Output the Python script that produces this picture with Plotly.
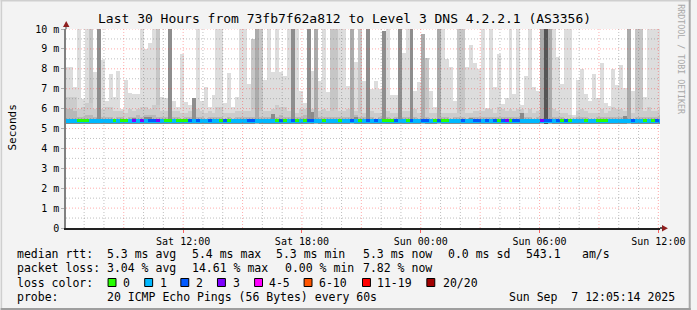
import plotly.graph_objects as go
import pandas as pd

# ---------------- data ----------------
# bar centre times (12 min buckets), k = -1 .. 149
times = pd.date_range("2025-09-06 06:08", periods=151, freq="12min")

# highest ping (ms) per bucket (values > 10 run off the chart)
light_top = [
    8.1, 8.1, 7.1, 12, 6.5, 12, 12, 7.85, 12, 8.45,
    6.4, 7.75, 6.6, 7.9, 6.0, 7.45, 6.8, 6.75, 6.75, 12,
    9.0, 9.3, 12, 12, 6.6, 6.55, 12, 6.4, 6.1, 8.75,
    6.35, 6.2, 6.55, 12, 6.4, 7.1, 6.1, 6.7, 12, 12,
    6.3, 7.8, 6.1, 6.6, 12, 12, 7.25, 9.5, 12, 12,
    7.45, 12, 7.85, 12, 7.85, 7.65, 12, 12, 12, 6.9,
    6.3, 12, 7.9, 12, 7.4, 12, 6.85, 12, 12, 12,
    12, 7.15, 12, 8.35, 12, 7.4, 12, 7.0, 7.4, 7.0,
    9.9, 12, 6.7, 6.7, 12, 8.8, 12, 12, 6.9, 7.35,
    9.75, 8.55, 6.9, 6.1, 12, 12, 8.5, 8.1, 6.4, 12,
    12, 8.1, 9.2, 8.3, 8.0, 12, 6.05, 12, 7.1, 8.75,
    6.25, 6.55, 12, 6.75, 12, 6.2, 7.65, 12, 7.1, 6.9,
    12, 12, 12, 12, 8.6, 7.25, 12, 12, 5.7, 7.45,
    8.0, 6.75, 6.4, 7.75, 6.55, 8.3, 6.3, 6.15, 8.0, 7.2,
    8.2, 7.05, 12, 6.9, 12, 12, 6.6, 12, 12, 12,
    12,
]

# shade of the tall smoke column: L light, M mid, A darker, D dark, X darkest
tall_shade = (
    "LLLLLLMLDL"
    "LLLLLLLLLL"
    "LLLMLLDLLL"
    "LLDLLLLLLL"
    "LLLLLLLMAM"
    "LLLLLLLDLL"
    "LDLALLLMML"
    "LLALMLDLLL"
    "DLLLDLLDLL"
    "AMLLALLLLM"
    "MLLLLLLLLL"
    "LLLLLLLLLL"
    "AXALLLLLLL"
    "LLLLLLLLLL"
    "LLALMMLLLL"
    "L"
)

# upper edge of the mid-grey smoke band (ms)
mid_low = [
    6.6, 6.6, 6.6, 6.0, 6.1, 6.3, 6.3, 6.0, 6.3, 6.0,
    6.1, 6.1, 5.9, 5.9, 5.9, 5.8, 6.0, 5.9, 6.0, 6.1,
    6.1, 6.0, 6.2, 6.2, 5.9, 5.9, 6.0, 5.9, 5.9, 5.8,
    5.8, 5.9, 6.0, 6.0, 5.9, 5.8, 5.9, 5.8, 6.1, 6.1,
    5.8, 5.8, 5.8, 5.9, 5.9, 5.9, 5.9, 6.0, 6.1, 5.9,
    5.9, 5.9, 6.0, 6.2, 6.1, 6.1, 5.9, 5.9, 5.8, 6.0,
    6.0, 6.1, 6.0, 5.9, 5.9, 6.0, 5.9, 5.9, 6.0, 5.9,
    5.9, 6.0, 5.9, 5.9, 5.8, 5.8, 5.8, 5.9, 5.8, 5.8,
    5.9, 5.9, 5.8, 5.8, 5.9, 5.9, 5.9, 5.9, 6.0, 5.8,
    5.8, 6.0, 5.8, 5.8, 5.7, 5.8, 5.8, 5.8, 5.8, 5.8,
    5.9, 5.8, 5.8, 5.9, 5.9, 5.9, 6.0, 6.0, 5.8, 6.1,
    6.0, 5.9, 6.0, 5.9, 6.0, 6.0, 5.8, 6.0, 5.8, 5.9,
    5.9, 5.9, 6.0, 6.0, 5.9, 5.8, 5.8, 5.7, 5.6, 5.9,
    6.0, 5.9, 5.8, 5.8, 5.8, 6.0, 5.8, 5.9, 6.1, 6.0,
    6.0, 5.9, 5.9, 5.8, 5.9, 6.0, 5.9, 6.1, 5.9, 5.9,
    6.1,
]

# upper edge of the dark smoke band (ms)
dark_low = [
    6.0, 6.0, 5.9, 5.6, 5.6, 5.7, 5.7, 5.6, 5.7, 5.6,
    5.6, 5.6, 5.5, 5.6, 5.6, 5.5, 5.6, 5.6, 5.7, 5.6,
    5.7, 5.7, 5.7, 5.6, 5.6, 5.6, 5.6, 5.6, 5.6, 5.5,
    5.6, 5.6, 5.6, 5.6, 5.6, 5.5, 5.6, 5.6, 5.6, 5.6,
    5.5, 5.6, 5.5, 5.6, 5.6, 5.6, 5.6, 5.6, 5.6, 5.6,
    5.6, 5.6, 5.7, 5.6, 5.7, 5.6, 5.6, 5.6, 5.6, 5.6,
    5.7, 5.7, 5.6, 5.6, 5.6, 5.6, 5.6, 5.6, 5.6, 5.6,
    5.6, 5.6, 5.6, 5.7, 5.6, 5.6, 5.6, 5.6, 5.5, 5.6,
    5.6, 5.6, 5.5, 5.6, 5.6, 5.6, 5.6, 5.6, 5.6, 5.5,
    5.6, 5.6, 5.5, 5.5, 5.5, 5.6, 5.6, 5.5, 5.6, 5.6,
    5.6, 5.5, 5.6, 5.6, 5.6, 5.6, 5.6, 5.6, 5.6, 5.6,
    5.6, 5.6, 5.6, 5.6, 5.6, 5.6, 5.6, 5.6, 5.5, 5.6,
    5.6, 5.6, 5.6, 5.6, 5.6, 5.6, 5.5, 5.5, 5.5, 5.6,
    5.6, 5.6, 5.5, 5.5, 5.6, 5.6, 5.6, 5.6, 5.6, 5.6,
    5.6, 5.6, 5.6, 5.5, 5.6, 5.6, 5.6, 5.6, 5.6, 5.6,
    5.7,
]

# darkest core near the median (ms)
core_top = [
    5.45, 5.45, 5.45, 5.45, 5.45, 5.45, 5.45, 5.45, 5.45, 5.45,
    5.45, 5.45, 5.45, 5.45, 5.45, 5.45, 5.45, 5.55, 5.45, 5.45,
    5.6, 5.6, 5.45, 5.45, 5.45, 5.45, 5.45, 5.45, 5.45, 5.45,
    5.45, 5.45, 5.45, 5.45, 5.45, 5.45, 5.45, 5.45, 5.45, 5.45,
    5.45, 5.45, 5.45, 5.45, 5.45, 5.45, 5.45, 5.45, 5.45, 5.45,
    5.45, 5.45, 5.75, 5.45, 5.45, 5.45, 5.45, 5.45, 5.45, 5.45,
    5.45, 5.45, 5.85, 5.45, 5.45, 5.45, 5.45, 5.45, 5.45, 5.45,
    5.45, 5.45, 5.45, 5.6, 5.45, 5.45, 5.45, 5.45, 5.45, 5.45,
    5.45, 5.45, 5.45, 5.45, 5.45, 5.45, 5.45, 5.45, 5.45, 5.45,
    5.45, 5.45, 5.45, 5.45, 5.45, 5.45, 5.45, 5.45, 5.45, 5.45,
    5.45, 5.45, 5.55, 5.45, 5.45, 5.45, 5.45, 5.45, 5.45, 5.45,
    5.45, 5.45, 5.45, 5.45, 5.45, 5.8, 5.45, 5.45, 5.45, 5.45,
    5.45, 5.45, 5.45, 5.45, 5.45, 5.45, 5.45, 5.45, 5.45, 5.45,
    5.45, 5.45, 5.45, 5.45, 5.45, 5.45, 5.45, 5.45, 5.45, 5.45,
    5.45, 5.65, 5.45, 5.45, 5.45, 5.45, 5.45, 5.45, 5.45, 5.45,
    5.45,
]

# lost pings per bucket (0..3) -> median line colour
loss = [
    1, 1, 1, 0, 0, 0, 1, 1, 1, 1,
    1, 1, 0, 1, 0, 0, 1, 3, 1, 3,
    1, 2, 2, 3, 1, 0, 0, 1, 0, 0,
    0, 2, 1, 2, 1, 1, 2, 1, 1, 0,
    2, 0, 1, 1, 1, 1, 2, 2, 1, 1,
    1, 1, 1, 0, 2, 0, 1, 2, 0, 1,
    0, 2, 2, 1, 1, 0, 1, 1, 1, 0,
    1, 1, 2, 1, 0, 1, 2, 1, 2, 1,
    0, 0, 0, 2, 1, 1, 0, 2, 1, 1,
    2, 2, 1, 0, 2, 0, 0, 1, 1, 1,
    2, 1, 1, 2, 2, 1, 2, 1, 2, 0,
    2, 3, 0, 2, 2, 1, 1, 1, 1, 1,
    3, 2, 2, 1, 2, 0, 2, 0, 1, 1,
    1, 0, 1, 1, 0, 0, 0, 1, 1, 1,
    1, 1, 1, 2, 1, 1, 0, 1, 0, 2,
    1,
]

y_tick_vals = [0, 1, 2, 3, 4, 5, 6, 7, 8, 9, 10]
y_tick_text = ["0", "1 m", "2 m", "3 m", "4 m", "5 m", "6 m", "7 m", "8 m", "9 m", "10 m"]
x_tick_vals = ["2025-09-06 12:00", "2025-09-06 18:00", "2025-09-07 00:00",
               "2025-09-07 06:00", "2025-09-07 12:00"]

title_text = "Last 30 Hours from 73fb7f62a812 to Level 3 DNS 4.2.2.1 (AS3356)"
rtt_stats = ["5.3 ms avg", "5.4 ms max", "5.3 ms min", "5.3 ms now", "0.0 ms sd", "543.1", "am/s"]
loss_stats = ["3.04 % avg", "14.61 % max", "0.00 % min", "7.82 % now"]
loss_labels = ["0", "1", "2", "3", "4-5", "6-10", "11-19", "20/20"]
loss_colors = ["#26ff00", "#00b8ff", "#0059ff", "#7e00ff", "#ff00ff", "#ff5500", "#ff0000", "#a10000"]
probe_text = "20 ICMP Echo Pings (56 Bytes) every 60s"
stamp_text = "Sun Sep\u00a0\u00a07 12:05:14 2025"

# ---------------- styling ----------------
FONT = "DejaVu Sans Mono"
BASE = 5.22
W = 12 * 60 * 1000
W_PX, H_PX = 697, 310
L, R, T, B = 66, 31, 29, 82
PW, PH = W_PX - L - R, H_PX - T - B


def px(x):
    return (x - L) / PW


def py(y):
    return (H_PX - B - y) / PH


fig = go.Figure()


def add_bars(tops, color, keep=None, base=BASE):
    ys = []
    for i, t in enumerate(tops):
        if keep is None or keep(i):
            ys.append(t - base)
        else:
            ys.append(None)
    fig.add_trace(go.Bar(x=times, y=ys, base=base, width=W,
                         marker=dict(color=color, line=dict(width=0)),
                         hoverinfo="skip", showlegend=False))


shade_col = {"L": "#dddddd", "M": "#c6c6c6", "A": "#ababab", "D": "#8e8e8e", "X": "#555555"}

add_bars(light_top, shade_col["L"])
add_bars(light_top, shade_col["M"], keep=lambda i: tall_shade[i] == "M")
add_bars([min(m, t) for m, t in zip(mid_low, light_top)], "#cccccc")
add_bars([min(d, t) for d, t in zip(dark_low, light_top)], "#b8b8b8")
add_bars(core_top, "#8a8a8a")
for code in ["A", "D", "X"]:
    add_bars(light_top, shade_col[code], keep=lambda i, c=code: tall_shade[i] == c)

# median line
fig.add_trace(go.Bar(x=times, y=[0.07] * len(times), base=5.28, width=W,
                     marker=dict(color="#00b8ff", line=dict(width=0)),
                     hoverinfo="skip", showlegend=False))
fig.add_trace(go.Bar(x=times, y=[0.12] * len(times), base=5.35, width=W,
                     marker=dict(color=[loss_colors[v] for v in loss], line=dict(width=0)),
                     hoverinfo="skip", showlegend=False))

MAJ = "rgba(255,40,40,0.38)"
MIN = "rgba(128,128,128,0.5)"
shapes = []
# grid drawn on top of the data (rrdtool style)
for h in pd.date_range("2025-09-06 07:00", "2025-09-07 12:00", freq="h"):
    major = h.hour % 3 == 0
    shapes.append(dict(type="line", xref="x", yref="paper", x0=h, x1=h, y0=0, y1=1,
                       line=dict(color=MAJ if major else MIN, width=1, dash="1px,2px"), layer="above"))
for j in range(1, 21):
    v = j * 0.5
    major = j % 2 == 0
    shapes.append(dict(type="line", xref="paper", yref="y", x0=0, x1=1, y0=v, y1=v,
                       line=dict(color=MAJ if major else MIN, width=1, dash="1px,2px"), layer="above"))

# axis extension + arrows
shapes.append(dict(type="line", xref="paper", yref="paper", x0=px(66), x1=px(66), y0=py(29), y1=py(24),
                   line=dict(color="#808080", width=1.5)))
shapes.append(dict(type="line", xref="paper", yref="paper", x0=px(666), x1=px(669), y0=py(228), y1=py(228),
                   line=dict(color="#222222", width=1.5)))
shapes.append(dict(type="path", xref="paper", yref="paper",
                   path=f"M {px(63)},{py(27)} L {px(69.5)},{py(27)} L {px(66.2)},{py(21)} Z",
                   fillcolor="#8f1f1f", line=dict(width=0)))
shapes.append(dict(type="path", xref="paper", yref="paper",
                   path=f"M {px(668)},{py(225)} L {px(668)},{py(231.5)} L {px(674)},{py(228.2)} Z",
                   fillcolor="#8f1f1f", line=dict(width=0)))

# frame
shapes.append(dict(type="line", xref="paper", yref="paper", x0=px(0), x1=px(697), y0=py(0.75), y1=py(0.75),
                   line=dict(color="#cfcfcf", width=1.5)))
shapes.append(dict(type="line", xref="paper", yref="paper", x0=px(0.75), x1=px(0.75), y0=py(0), y1=py(310),
                   line=dict(color="#cfcfcf", width=1.5)))
shapes.append(dict(type="line", xref="paper", yref="paper", x0=px(696), x1=px(696), y0=py(0), y1=py(310),
                   line=dict(color="#a8a8a8", width=2)))
shapes.append(dict(type="line", xref="paper", yref="paper", x0=px(0), x1=px(697), y0=py(309), y1=py(309),
                   line=dict(color="#9e9e9e", width=2)))

annotations = []


def txt(x, y, s, size=11.5, anchor="left", color="black", angle=0):
    annotations.append(dict(x=px(x), y=py(y), xref="paper", yref="paper", text=s,
                            showarrow=False, xanchor=anchor, yanchor="middle",
                            textangle=angle, borderpad=0,
                            font=dict(family=FONT, size=size, color=color)))


txt(347, 18, title_text, size=13, anchor="center")
txt(11, 128, "Seconds", size=11, anchor="center", angle=-90)
txt(687, 59, "RRDTOOL / TOBI OETIKER", size=8.3, anchor="center", color="#a8a8a8", angle=90)

row_y = [254, 268, 282.5, 296.5]
txt(15, row_y[0], "median rtt:")
for xpos, s in zip([106.5, 192, 277.5, 364.5, 451, 529.5, 586], rtt_stats):
    txt(xpos, row_y[0], s)
txt(15, row_y[1], "packet loss:")
for xpos, s in zip([106.5, 192.5, 286, 364.5], loss_stats):
    txt(xpos, row_y[1], s)
txt(15, row_y[2], "loss color:")
box_x = [108.5, 145.5, 182, 219, 256.5, 306.5, 365.5, 430.5]
lab_x = [122.5, 159.5, 196.5, 233.5, 270, 321, 379.5, 445.5]
for bx, lx, s, c in zip(box_x, lab_x, loss_labels, loss_colors):
    shapes.append(dict(type="rect", xref="paper", yref="paper", x0=px(bx), x1=px(bx + 8),
                       y0=py(278.5), y1=py(286.5), fillcolor=c, line=dict(color="black", width=1)))
    txt(lx, row_y[2], s)
txt(15, row_y[3], "probe:")
txt(106.5, row_y[3], probe_text)
txt(512.5, row_y[3], stamp_text)

fig.update_layout(
    width=W_PX, height=H_PX,
    margin=dict(l=L, r=R, t=T, b=B, pad=0),
    paper_bgcolor="#f3f3f3", plot_bgcolor="white",
    barmode="overlay", bargap=0,
    shapes=shapes, annotations=annotations,
    font=dict(family=FONT, size=10, color="black"),
    xaxis=dict(type="date", range=["2025-09-06 06:05", "2025-09-07 12:05"],
               tickvals=x_tick_vals, tickformat="%a %H:%M",
               showgrid=False, zeroline=False,
               showline=True, linecolor="#222222", linewidth=1.5,
               ticks="outside", ticklen=3, tickcolor="rgba(255,0,0,0.6)",
               tickfont=dict(family=FONT, size=10)),
    yaxis=dict(range=[0, 10], tickvals=y_tick_vals, ticktext=y_tick_text,
               showgrid=False, zeroline=False,
               showline=True, linecolor="#808080", linewidth=1.5,
               ticks="outside", ticklen=3, tickcolor="#b0b0b0",
               tickfont=dict(family=FONT, size=10)),
)

fig.write_html("out.html")
